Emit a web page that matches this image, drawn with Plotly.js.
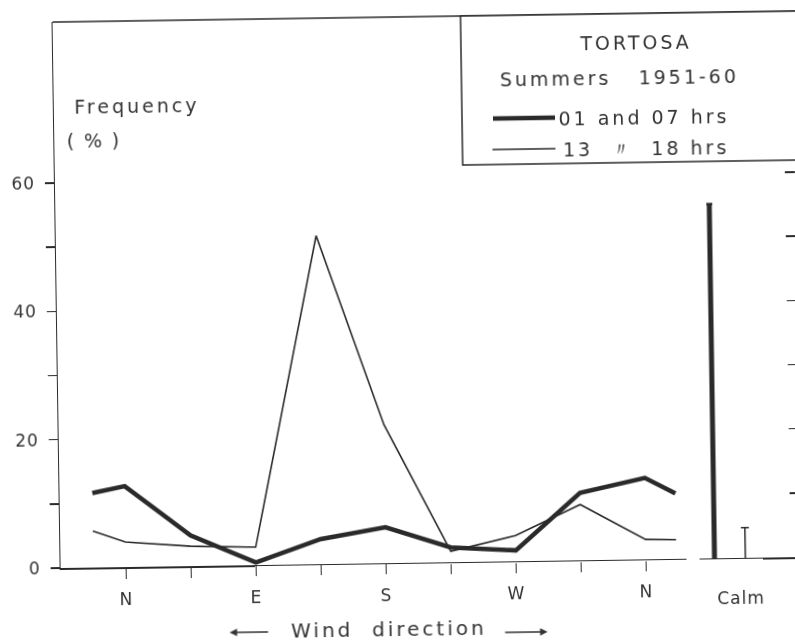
<!DOCTYPE html>
<html>
<head>
<meta charset="utf-8">
<script src="https://cdn.plot.ly/plotly-3.0.1.min.js"></script>
<style>
  html, body { margin: 0; padding: 0; background: #ffffff; overflow: hidden; }
  #chart {
    position: absolute; left: 0; top: 0; width: 810px; height: 643px;
    transform: rotate(-0.85deg); transform-origin: 397.5px 321.5px;
    filter: blur(0.4px);
  }
  #chart .annotation-text { letter-spacing: 3px; }
  #chart .xtick text, #chart .ytick text, #chart .x2tick text { letter-spacing: 1px; }
</style>
</head>
<body>
<div id="chart"></div>
<script>
// Wind direction in degrees from north (N = 0, E = 90, S = 180, W = 270, N = 360)
const dirDeg = [-22.5, 0, 45, 90, 135, 180, 225, 270, 315, 360, 381];
// Frequency (%) of winds from each direction, Tortosa summers 1951-60
const nightFreq = [11.6, 12.6, 4.8, 0.4, 3.9, 5.6, 2.3, 1.7, 10.5, 12.7, 10.2]; // 01 and 07 hrs
const dayFreq   = [5.7, 3.9, 3.1, 2.8, 51.2, 21.6, 1.7, 4.0, 8.7, 3.1, 3.0];    // 13 and 18 hrs
// Calm frequency (%)
const calmCats  = ['Calm'];
const calmNight = [55.2];
const calmDay   = [4.7];

const seriesNames = ['01 and 07 hrs', '13 \u00A0\u3003\u00A0 18 hrs'];
const dirTickVals = [0, 45, 90, 135, 180, 225, 270, 315, 360];
const dirTickText = ['N', '', 'E', '', 'S', '', 'W', '', 'N'];
const freqTickVals = [0, 10, 20, 30, 40, 50, 60];
const freqTickText = ['0', '', '20', '', '40', '', '60'];
const calmTickVals = [10, 20, 30, 40, 50, 60];

const INK = '#2a2a2a';
const TEXT = '#333333';
const FONT = 'DejaVu Sans, sans-serif';
const THICK = 4.5, THIN = 1.6;
const Y_RANGE = [0, 85.1];

// plot frame in pixels
const W = 810, H = 643, L = 57, R = 13, T = 17, B = 80;
const PW = W - L - R, PH = H - T - B;
const px = x => (x - L) / PW;
const py = y => (H - B - y) / PH;

const traces = [
  { x: dirDeg, y: nightFreq, name: seriesNames[0], type: 'scatter', mode: 'lines',
    line: { color: INK, width: THICK }, xaxis: 'x', yaxis: 'y' },
  { x: dirDeg, y: dayFreq, name: seriesNames[1], type: 'scatter', mode: 'lines',
    line: { color: INK, width: THIN }, xaxis: 'x', yaxis: 'y' },
  { x: calmCats, y: calmNight, name: seriesNames[0], type: 'bar', xaxis: 'x2', yaxis: 'y2',
    width: 0.05, offset: -0.284, marker: { color: INK, line: { width: 0 } },
    error_y: { type: 'data', array: [0], visible: true, width: 3, thickness: 2.5, color: INK } },
  { x: calmCats, y: calmDay, name: seriesNames[1], type: 'bar', xaxis: 'x2', yaxis: 'y2',
    width: 0.015, offset: 0.04, marker: { color: INK, line: { width: 0 } },
    error_y: { type: 'data', array: [0], visible: true, width: 4, thickness: 1.5, color: INK } }
];

const tickFont = { family: FONT, size: 17, color: TEXT };
const ann = (text, x, y, size) => ({
  text, xref: 'paper', yref: 'paper', x: px(x), y: py(y), xanchor: 'center', yanchor: 'middle',
  showarrow: false, font: { family: FONT, size: size || 19, color: TEXT }
});
const arrow = (x, y, ax) => ({
  text: '', xref: 'paper', yref: 'paper', x: px(x), y: py(y), ax: ax, ay: 0,
  showarrow: true, arrowhead: 2, arrowsize: 1, arrowwidth: 1.5, arrowcolor: TEXT
});

const layout = {
  width: W, height: H,
  margin: { l: L, r: R, t: T, b: B, pad: 0 },
  paper_bgcolor: '#ffffff', plot_bgcolor: 'rgba(0,0,0,0)',
  showlegend: false,
  xaxis: {
    domain: [0, px(683.5)], range: [-45.2, 388.4],
    tickmode: 'array', tickvals: dirTickVals, ticktext: dirTickText,
    ticks: 'outside', ticklen: 10, tickwidth: 1.5, tickcolor: INK, ticklabelstandoff: 6,
    showline: true, linecolor: INK, linewidth: 1.5,
    showgrid: false, zeroline: false, tickfont: tickFont, anchor: 'y'
  },
  xaxis2: {
    domain: [px(696.5), 1], type: 'category', range: [-0.403, 0.597],
    ticks: '', ticklabelstandoff: 24, showline: true, linecolor: INK, linewidth: 1.5,
    showgrid: false, zeroline: false, tickfont: tickFont, anchor: 'y2'
  },
  yaxis: {
    range: Y_RANGE, tickmode: 'array', tickvals: freqTickVals, ticktext: freqTickText,
    ticks: 'outside', ticklen: 9, tickwidth: 1.5, tickcolor: INK, ticklabelstandoff: 6,
    showline: true, linecolor: INK, linewidth: 1.5,
    showgrid: false, zeroline: false, tickfont: tickFont, anchor: 'x'
  },
  yaxis2: {
    range: Y_RANGE, side: 'right', anchor: 'x2',
    tickmode: 'array', tickvals: calmTickVals, showticklabels: false,
    ticks: 'inside', ticklen: 10, tickwidth: 1.5, tickcolor: INK,
    showline: false, showgrid: false, zeroline: false
  },
  shapes: [
    // frame top
    { type: 'line', xref: 'paper', yref: 'paper', x0: 0, x1: 1.05, y0: 1, y1: 1,
      line: { color: INK, width: 1.5 } },
    // key box
    { type: 'rect', xref: 'paper', yref: 'paper', x0: px(465), x1: 1.05, y0: py(166), y1: 1,
      fillcolor: '#ffffff', line: { color: INK, width: 1.5 }, layer: 'above' },
    { type: 'line', xref: 'paper', yref: 'paper', x0: px(496), x1: px(558), y0: py(120), y1: py(120),
      line: { color: INK, width: THICK }, layer: 'above' },
    { type: 'line', xref: 'paper', yref: 'paper', x0: px(495), x1: px(558), y0: py(151), y1: py(151),
      line: { color: INK, width: THIN }, layer: 'above' }
  ],
  annotations: [
    ann('Frequency', 140, 102),
    ann('(\u2009%\u2009)', 97, 136),
    ann('TORTOSA', 639, 46),
    ann('Summers \u00A0 1951-60', 623, 81),
    ann(seriesNames[0], 647, 121),
    ann(seriesNames[1], 648, 152),
    ann('Wind \u00A0direction', 384, 629, 20),
    arrow(225, 630, 40),
    arrow(543, 634, -44)
  ]
};

Plotly.newPlot('chart', traces, layout, { displayModeBar: false, staticPlot: true });
</script>
</body>
</html>
